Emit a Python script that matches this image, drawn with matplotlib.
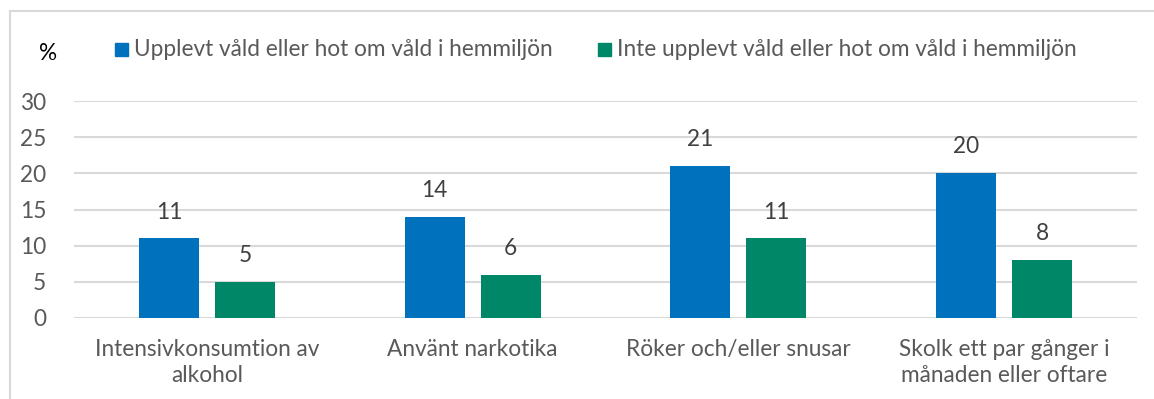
import numpy as np
import matplotlib.pyplot as plt
from matplotlib.patches import Rectangle

plt.rcParams['font.family'] = ['Lato', 'DejaVu Sans']

categories = [
    'Intensivkonsumtion av\nalkohol',
    'Använt narkotika',
    'Röker och/eller snusar',
    'Skolk ett par gånger i\nmånaden eller oftare',
]
series_names = [
    'Upplevt våld eller hot om våld i hemmiljön',
    'Inte upplevt våld eller hot om våld i hemmiljön',
]
exposed = [11, 14, 21, 20]
not_exposed = [5, 6, 11, 8]

BLUE = '#0071BC'
GREEN = '#008767'
TEXT = '#595959'
GRID = '#D9D9D9'
FS = 16.3

W, H = 1154, 399
fig = plt.figure(figsize=(W / 100, H / 100), dpi=100)
ax = fig.add_axes([74 / W, 1 - 318 / H, (1137 - 74) / W, (318 - 101) / H])

# outer chart frame, running off the right and bottom edges
fig.patches.append(Rectangle((10 / W, -0.1), 1.2, 1 - 11 / H + 0.1,
                             transform=fig.transFigure, fill=False,
                             edgecolor=GRID, lw=1.5))

x = np.arange(len(categories))
width = 0.226
offset = 0.143
bars1 = ax.bar(x - offset, exposed, width, color=BLUE, zorder=3)
bars2 = ax.bar(x + offset, not_exposed, width, color=GREEN, zorder=3)

for bars, vals in ((bars1, exposed), (bars2, not_exposed)):
    for b, v in zip(bars, vals):
        ax.annotate(str(v), (b.get_x() + b.get_width() / 2, v),
                    xytext=(0, 19), textcoords='offset points',
                    ha='center', va='center', fontsize=FS, color='#404040')

ax.set_xlim(-0.5, len(categories) - 0.5)
ax.set_ylim(0, 30)
ax.set_yticks(range(0, 31, 5))
ax.yaxis.grid(True, color=GRID, lw=1.5, zorder=0)
ax.set_xticks(x)
ax.set_xticklabels(categories, fontsize=FS, color=TEXT, linespacing=1.3)
ax.tick_params(axis='both', length=0, labelsize=FS, colors=TEXT)
ax.tick_params(axis='x', pad=15)
ax.tick_params(axis='y', pad=20)
for s in ax.spines.values():
    s.set_visible(False)

fig.text(48 / W, 1 - 54 / H, '%', fontsize=FS, color='black',
         ha='center', va='center')

# legend
for xs, name, col in ((115, series_names[0], BLUE), (598, series_names[1], GREEN)):
    fig.patches.append(Rectangle((xs / W, 1 - 56 / H), 13 / W, 13 / H,
                                 transform=fig.transFigure, color=col))
    fig.text((xs + 19) / W, 1 - 50 / H, name, fontsize=FS, color=TEXT,
             ha='left', va='center')

fig.savefig('out.png', dpi=100)
